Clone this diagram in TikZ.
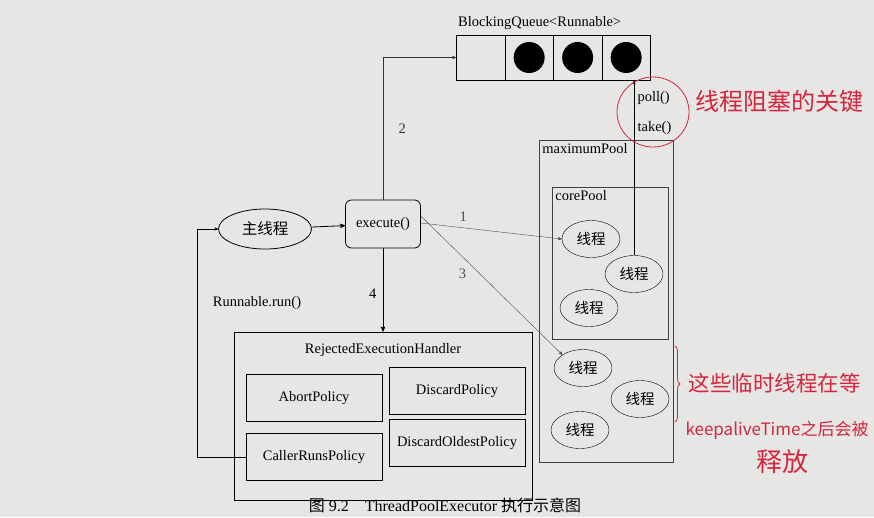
\documentclass[tikz,border=0pt]{standalone}
\usepackage{fontspec}
\setmainfont{Liberation Serif}
\newfontfamily\cjk{Noto Sans CJK SC}
\usetikzlibrary{decorations.pathreplacing,shapes,arrows,positioning}
\definecolor{paper}{RGB}{230,230,228}
\definecolor{pen}{RGB}{212,38,62}

\begin{document}
\begin{tikzpicture}[x=1pt,y=-1pt,font=\fontsize{14.5}{17}\selectfont,
	thr/.style={draw,ellipse,inner sep=0pt,minimum width=58pt,minimum height=37pt,font=\cjk\fontsize{14.5}{17}\selectfont},
	pol/.style={draw,thick,minimum width=136pt,minimum height=47pt},
	pool/.style={draw,black!75},
	note/.style={pen,font=\cjk\fontsize{24}{28}\selectfont}]
	\fill[paper] (0,0) rectangle (874,517);
	\useasboundingbox (0,0) rectangle (874,517);

	\foreach \i [count=\n] in {0,1,1,1}
		\node[draw,thick,minimum width=48.5pt,minimum height=45pt,anchor=west](Q\n) at (456+48.5*\n-48.5,57.5) {};
	\foreach \n in {2,3,4}
		\fill (Q\n) circle (15.5pt);
	\node[anchor=south west,inner sep=2pt] (QL) at ([yshift=3pt]Q1.north west) {BlockingQueue<Runnable>};

	\node[draw,ellipse,thick,inner sep=0pt,minimum width=93pt,minimum height=40pt,font=\cjk\fontsize{15.5}{18}\selectfont](M) at (265,229) {主线程};
	\node[draw,thick,rounded corners=6pt,minimum width=75pt,minimum height=48pt](E) at (383,224) {execute()};

	\node[pool,minimum width=134pt,minimum height=322pt](MP) at (606,301) {};
	\node[anchor=north west] (MPL) at (MP.north west) {maximumPool};
	\node[pool,minimum width=116pt,minimum height=152pt](CP) at (610,263) {};
	\node[anchor=north west] (CPL) at (CP.north west) {corePool};

	\foreach \x/\y [count=\n] in {591/239,634/274,589/308,583/368,640/399,580/430}
		\node[thr](T\n) at (\x,\y) {线程};

	\node[draw,thick,minimum width=298pt,minimum height=168pt](H) at (383,416) {};
	\node[anchor=north] (HL) at ([yshift=-8pt]H.north) {RejectedExecutionHandler};
	\node[pol](P1) at (314,398) {AbortPolicy};
	\node[pol](P2) at (457,391) {DiscardPolicy};
	\node[pol](P3) at (314,457) {CallerRunsPolicy};
	\node[pol](P4) at (457,443) {DiscardOldestPolicy};

	\path[->,>=stealth',thick]
		(M) edge node {} (E);
	\draw[->,>=stealth',thin,black!80] (E.north) |- (Q1.west) node[pos=0.25,right=12pt] {2};
	\draw[->,>=stealth',thin,black!70] ([yshift=1pt]E.east) -- (T1.west) node[pos=0.3,above=3pt] {1};
	\draw[->,>=stealth',thin,black!70] ([yshift=8pt]E.east) -- (T4.north west) node[pos=0.35,below left=1pt] {3};
	\draw[->,>=stealth',thick] (E.south) -- (E.south |- H.north) node[pos=0.55,left=3pt] {4};
	\draw[->,>=stealth',thin] (T2.north) -- (T2.north |- Q4.south);
	\draw[->,>=stealth',thin] (P3.west) -- ++(-48,0) |- (M.west);
	\node (R) at (257,303) {Runnable.run()};

	\node[anchor=west] (PO) at (634,98) {poll()};
	\node[anchor=west] (TA) at (634,128) {take()};
	\draw[pen,thick] (653,112) ellipse (36pt and 35pt);
	\node[note,anchor=west] (N1) at (692,101) {线程阻塞的关键};

	\draw[pen,thick,decorate,decoration={brace,amplitude=5pt}] (675,346) -- (675,422);
	\node[note,anchor=west,font=\cjk\fontsize{21.5}{26}\selectfont] (N2) at (685,383) {这些临时线程在等};
	\node[note,anchor=west,font=\cjk\fontsize{17}{20}\selectfont] (N3) at (682,430) {keepaliveTime之后会被};
	\node[note,font=\cjk\fontsize{26}{30}\selectfont] (N4) at (782,462) {释放};

	\node[font=\fontsize{16}{18}\selectfont] (C) at (445,505) {{\cjk 图} 9.2\quad ThreadPoolExecutor {\cjk 执行示意图}};
\end{tikzpicture}
\end{document}
